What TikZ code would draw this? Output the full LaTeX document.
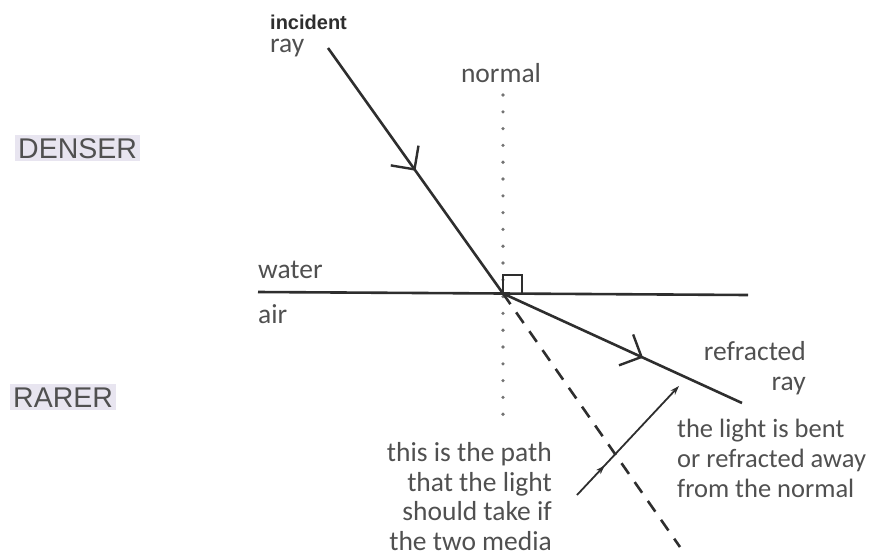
\documentclass[tikz,border=0pt]{standalone}
\usepackage{fontspec}
\setmainfont{Carlito}
\newfontfamily\arialfont{Liberation Sans}
\usepackage{xcolor}
\usetikzlibrary{arrows.meta,positioning,decorations.markings}

\definecolor{inkgray}{HTML}{2E2E2E}
\definecolor{textgray}{HTML}{505050}
\definecolor{bandlilac}{HTML}{E8E5F0}

\begin{document}
\begin{tikzpicture}[
  x=1pt, y=-1pt,
  lbl/.style={text=textgray, inner sep=0pt,
    font=\fontsize{27.5}{29.5}\selectfont},
  medium/.style={text=textgray, fill=bandlilac, inner sep=3pt,
    font=\arialfont\fontsize{28.5}{30}\selectfont},
  ray/.style={draw=inkgray, line width=2.6pt},
  barb/.style={postaction={decorate}, decoration={markings,
    mark=at position #1 with {\arrow{Straight Barb[length=17pt,width=34pt,line width=2.4pt]}}}},
  pointer/.style={draw=inkgray, line width=1.8pt,
    -{Stealth[length=9pt,width=6pt]}}
]
  \useasboundingbox (0,0) rectangle (871,558);

  % points on the figure
  \coordinate (hit) at (503,293.5);
  \coordinate (inctop) at (328,48);
  \coordinate (refend) at (742,403);
  \coordinate (dashend) at (680,547);
  \coordinate (surfl) at (258,292);
  \coordinate (surfr) at (748,295);
  \coordinate (nortop) at (503,95);
  \coordinate (norbot) at (503,423);
  \coordinate (ptrlow) at (577,495);
  \coordinate (ptrhigh) at (679,386);

  % normal, surface and the rays
  \draw[textgray!80, line width=3.6pt, line cap=round,
    dash pattern=on 0pt off 16.8pt] (nortop) -- (norbot);
  \draw[ray] (surfl) -- (surfr);
  \draw[inkgray, line width=2pt] (hit) rectangle ++(19,-19);
  \draw[ray, barb=0.5] (inctop) -- (hit);
  \draw[ray, barb=0.586] (hit) -- (refend);
  \draw[ray, dash pattern=on 13pt off 10pt] (hit) -- (dashend);
  \draw[pointer, postaction={decorate}, decoration={markings,
    mark=at position 0.27 with {\arrow{Stealth[length=9pt,width=6pt]}}}]
    (ptrlow) -- (ptrhigh);

  % labels (multi-line nodes sit on their last baseline)
  \node[text=inkgray, inner sep=0pt, anchor=base west,
    font=\arialfont\bfseries\fontsize{20}{22}\selectfont] (inc) at (270,29) {incident};
  \node[lbl, anchor=base west] (incray) at (270,52) {ray};
  \node[lbl, anchor=base] (nor) at (501,82) {normal};
  \node[medium, anchor=base west] (dense) at (15,158) {DENSER};
  \node[medium, anchor=base west] (rare) at (10,407) {RARER};
  \node[lbl, anchor=base west] (wat) at (258,278) {water};
  \node[lbl, anchor=base west] (air) at (258,323) {air};
  \node[lbl, anchor=base east, align=right] (refl) at (806,390) {refracted\\ray};
  \node[lbl, anchor=base west, align=left,
    font=\fontsize{26.5}{30}\selectfont] (bent) at (677,497)
    {the light is bent\\or refracted away\\from the normal};
  \node[lbl, anchor=base east, align=right] (path) at (552,550)
    {this is the path\\that the light\\should take if\\the two media};
\end{tikzpicture}
\end{document}
